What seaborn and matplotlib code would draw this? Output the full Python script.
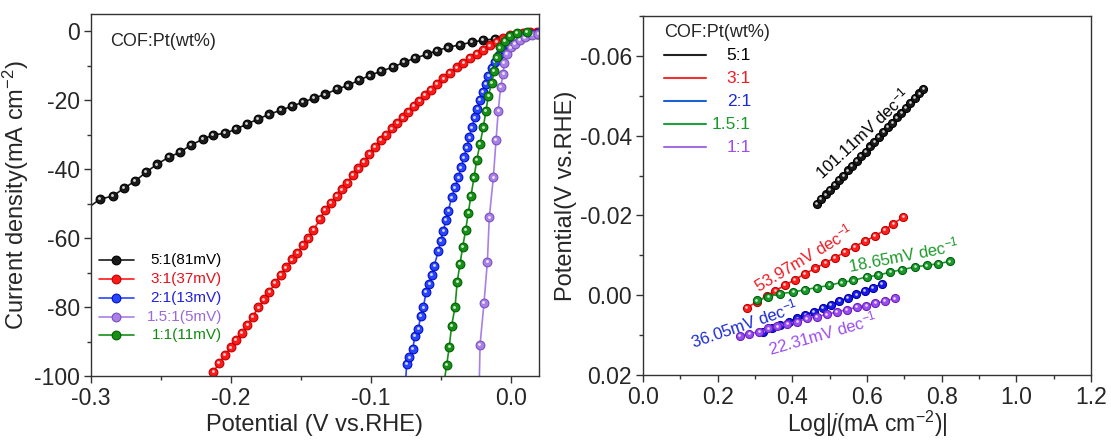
import matplotlib
matplotlib.use("Agg")
import matplotlib.pyplot as plt
import matplotlib.transforms as mtransforms
from matplotlib.lines import Line2D
from matplotlib.ticker import AutoMinorLocator, FormatStrFormatter
import pandas as pd
import seaborn as sns

# ---------------- LSV polarisation curves ----------------
# potential (V vs. RHE) and current density (mA cm^-2)
lsv_5_1_pot = [-0.3000, -0.2936, -0.2843, -0.2764, -0.2686, -0.2607, -0.2529, -0.2443, -0.2364, -0.2286,
               -0.2200, -0.2129, -0.2043, -0.1964, -0.1886, -0.1807, -0.1729, -0.1643, -0.1564, -0.1486,
               -0.1407, -0.1329, -0.1243, -0.1164, -0.1086, -0.1007, -0.0929, -0.0843, -0.0764, -0.0686,
               -0.0600, -0.0529, -0.0450, -0.0364, -0.0279, -0.0200, -0.0114, -0.0029, 0.0043, 0.0120, 0.0186]
lsv_5_1_cur = [-50.6, -48.7, -47.8, -45.5, -43.5, -40.9, -38.6, -36.5, -35.1, -33.0,
               -31.3, -30.1, -29.6, -28.4, -26.9, -25.5, -24.1, -22.9, -21.7, -20.6,
               -19.4, -18.3, -16.8, -15.7, -14.2, -12.8, -11.6, -10.4, -9.0, -7.8,
               -6.7, -5.6, -4.7, -3.9, -3.2, -2.6, -2.2, -1.9, -1.5, -1.1, -0.8]

lsv_3_1_pot = [-0.2140, -0.2126, -0.2086, -0.2043, -0.2002, -0.1964, -0.1924, -0.1884, -0.1845, -0.1805,
               -0.1764, -0.1726, -0.1686, -0.1645, -0.1607, -0.1566, -0.1526, -0.1488, -0.1448, -0.1412,
               -0.1364, -0.1329, -0.1288, -0.1245, -0.1209, -0.1169, -0.1131, -0.1091, -0.1050, -0.1012,
               -0.0971, -0.0930, -0.0893, -0.0852, -0.0812, -0.0774, -0.0734, -0.0693, -0.0655, -0.0614,
               -0.0574, -0.0531, -0.0484, -0.0436, -0.0388, -0.0341, -0.0293, -0.0245, -0.0198, -0.0150,
               -0.0102, -0.0055, -0.0007, 0.0041, 0.0088, 0.0136, 0.0186]
lsv_3_1_cur = [-101.0, -98.8, -96.3, -93.9, -91.7, -89.6, -87.6, -85.2, -82.8, -80.1,
               -77.8, -75.6, -73.0, -70.7, -68.5, -66.2, -64.4, -62.0, -60.1, -57.7,
               -54.5, -51.9, -49.9, -47.8, -45.9, -44.0, -41.7, -39.8, -37.9, -35.6,
               -33.5, -31.6, -30.1, -28.2, -26.6, -25.0, -23.4, -21.7, -20.2, -18.5,
               -16.9, -15.2, -13.7, -12.2, -10.5, -9.1, -7.7, -6.5, -5.3, -4.1,
               -3.1, -2.1, -1.2, -0.7, -0.4, -0.3, -0.2]

lsv_2_1_pot = [-0.0752, -0.0745, -0.0726, -0.0702, -0.0686, -0.0662, -0.0645, -0.0626, -0.0607, -0.0584,
               -0.0566, -0.0548, -0.0519, -0.0502, -0.0484, -0.0464, -0.0448, -0.0424, -0.0400, -0.0376,
               -0.0357, -0.0336, -0.0316, -0.0298, -0.0281, -0.0257, -0.0241, -0.0221, -0.0202, -0.0179,
               -0.0162, -0.0138, -0.0114, -0.0084, -0.0055, -0.0019, 0.0029, 0.0076, 0.0136, 0.0195]
lsv_2_1_cur = [-101.0, -96.5, -94.6, -92.2, -88.3, -86.4, -82.5, -80.1, -75.7, -73.3,
               -70.6, -68.0, -63.7, -60.8, -57.9, -54.8, -52.1, -48.2, -45.3, -42.4,
               -39.5, -36.6, -33.7, -30.8, -27.9, -25.0, -22.6, -20.0, -17.5, -15.2,
               -13.0, -10.7, -8.8, -6.9, -5.2, -3.8, -2.3, -1.4, -0.7, -0.4]

lsv_15_1_pot = [-0.0226, -0.0221, -0.0193, -0.0169, -0.0155, -0.0126, -0.0107, -0.0091, -0.0074,
                -0.0055, -0.0050, -0.0031, -0.0002, 0.0029, 0.0064, 0.0100, 0.0148, 0.0195]
lsv_15_1_cur = [-101.0, -90.9, -78.9, -67.0, -54.0, -42.4, -31.6, -23.1, -16.1,
                -12.3, -9.1, -6.5, -4.7, -3.6, -2.6, -1.8, -1.1, -0.7]

lsv_1_1_pot = [-0.0475, -0.0459, -0.0441, -0.0424, -0.0400, -0.0384, -0.0364, -0.0345, -0.0324,
               -0.0305, -0.0286, -0.0264, -0.0245, -0.0221, -0.0198, -0.0179, -0.0162, -0.0138,
               -0.0121, -0.0102, -0.0079, -0.0043, -0.0007, 0.0041, 0.0112]
lsv_1_1_cur = [-101.0, -96.7, -91.5, -85.4, -80.1, -72.6, -67.5, -62.5, -57.7,
               -52.6, -47.7, -42.4, -37.4, -32.6, -27.9, -23.1, -18.8, -14.9,
               -11.5, -7.6, -4.7, -2.8, -1.4, -0.4, -0.1]

lsv_labels = ["5:1(81mV)", "3:1(37mV)", "2:1(13mV)", "1.5:1(5mV)", "1:1(11mV)"]

# ---------------- Tafel plots ----------------
# log|j| (mA cm^-2) and potential (V vs. RHE)
tafel_5_1_logj = [0.465, 0.477, 0.489, 0.501, 0.513, 0.525, 0.536, 0.548, 0.560, 0.572, 0.584, 0.596, 0.608,
                  0.620, 0.632, 0.644, 0.656, 0.668, 0.680, 0.692, 0.704, 0.716, 0.728, 0.740, 0.751]
tafel_5_1_pot = [-0.0229, -0.0241, -0.0253, -0.0264, -0.0277, -0.0289, -0.0300, -0.0313, -0.0325, -0.0337,
                 -0.0349, -0.0360, -0.0373, -0.0385, -0.0397, -0.0409, -0.0421, -0.0433, -0.0446, -0.0458,
                 -0.0469, -0.0482, -0.0494, -0.0506, -0.0517]

tafel_3_1_logj = [0.278, 0.305, 0.331, 0.354, 0.380, 0.407, 0.434, 0.461, 0.488, 0.514, 0.541, 0.568,
                  0.595, 0.621, 0.648, 0.670, 0.697]
tafel_3_1_pot = [0.0031, 0.0017, 0.0002, -0.0011, -0.0025, -0.0039, -0.0054, -0.0067, -0.0081, -0.0094,
                 -0.0108, -0.0122, -0.0136, -0.0148, -0.0164, -0.0179, -0.0196]

tafel_2_1_logj = [0.322, 0.345, 0.368, 0.390, 0.413, 0.435, 0.458, 0.481, 0.503, 0.526, 0.548, 0.571,
                  0.594, 0.616, 0.639]
tafel_2_1_pot = [0.0092, 0.0083, 0.0075, 0.0067, 0.0058, 0.0049, 0.0041, 0.0032, 0.0024, 0.0015, 0.0006,
                 -0.0002, -0.0011, -0.0019, -0.0028]

tafel_15_1_logj = [0.305, 0.336, 0.367, 0.403, 0.434, 0.465, 0.499, 0.532, 0.563, 0.599, 0.630, 0.662,
                   0.693, 0.729, 0.760, 0.791, 0.822]
tafel_15_1_pot = [0.0013, 0.0004, -0.0004, -0.0008, -0.0014, -0.0019, -0.0025, -0.0032, -0.0037, -0.0046,
                  -0.0050, -0.0058, -0.0064, -0.0071, -0.0075, -0.0079, -0.0085]

tafel_1_1_logj = [0.260, 0.285, 0.311, 0.336, 0.360, 0.387, 0.413, 0.439, 0.465, 0.492, 0.519, 0.546,
                  0.572, 0.598, 0.622, 0.648, 0.675]
tafel_1_1_pot = [0.0102, 0.0096, 0.0092, 0.0083, 0.0078, 0.0071, 0.0067, 0.0058, 0.0054, 0.0048, 0.0042,
                 0.0036, 0.0030, 0.0026, 0.0020, 0.0015, 0.0008]

tafel_labels = ["5:1", "3:1", "2:1", "1.5:1", "1:1"]
tafel_slopes = ["101.11", "53.97", "36.05", "18.65", "22.31"]

# ---------------- style ----------------
sns.set_style("ticks")
plt.rcParams["font.family"] = ["Liberation Sans", "DejaVu Sans"]
plt.rcParams["mathtext.fontset"] = "custom"
plt.rcParams["mathtext.rm"] = "Liberation Sans"
plt.rcParams["mathtext.it"] = "Liberation Sans:italic"
plt.rcParams["axes.unicode_minus"] = False

SPINE = "#333333"

fig = plt.figure(figsize=(11.11, 4.41), dpi=100)
ax1 = fig.add_axes([91 / 1111, 65 / 441, 448 / 1111, 362 / 441])
ax2 = fig.add_axes([643 / 1111, 66 / 441, 448 / 1111, 359 / 441])


def ball_series(ax, x, y, color, edge, ms, lw=1.2, markevery=None):
    """Line with shaded ball markers."""
    df = pd.DataFrame({"x": x, "y": y})
    sns.lineplot(data=df, x="x", y="y", ax=ax, sort=False, estimator=None,
                 color=color, lw=lw, marker="o", markersize=ms,
                 markerfacecolor=color, markeredgecolor=edge, markeredgewidth=0.8,
                 markevery=markevery, legend=False)
    shine = mtransforms.offset_copy(ax.transData, fig=ax.figure, x=-0.6, y=0.8, units="dots")
    ax.plot(x, y, ls="none", marker="o", ms=ms * 0.33, color="white", alpha=0.8,
            markeredgewidth=0, transform=shine, markevery=markevery)


# ---------------- left: LSV ----------------
lsv_series = [
    (lsv_5_1_pot, lsv_5_1_cur, "#1a1a1a", "#000000", slice(1, None)),
    (lsv_3_1_pot, lsv_3_1_cur, "#ff1a1a", "#c00000", slice(1, None)),
    (lsv_2_1_pot, lsv_2_1_cur, "#2a45ff", "#0010c0", slice(1, None)),
    (lsv_15_1_pot, lsv_15_1_cur, "#a880e6", "#7a50c0", slice(1, None)),
    (lsv_1_1_pot, lsv_1_1_cur, "#169016", "#006000", slice(1, None)),
]
lsv_text_colors = ["#000000", "#e8101a", "#2020e0", "#9a6ad8", "#138a13"]

for pot, cur, col, edge, mev in lsv_series:
    ball_series(ax1, pot, cur, col, edge, ms=6.3, markevery=mev)

ax1.set_xlim(-0.3, 0.02)
ax1.set_ylim(-100, 5)
ax1.set_xticks([-0.3, -0.2, -0.1, 0.0])
ax1.set_yticks([0, -20, -40, -60, -80, -100])
ax1.xaxis.set_major_formatter(FormatStrFormatter("%.1f"))
ax1.set_xlabel("Potential (V vs.RHE)", fontsize=17, labelpad=3)
ax1.set_ylabel("Current density(mA cm$^{-2}$)", fontsize=17, labelpad=2)
ax1.text(0.042, 0.923, "COF:Pt(wt%)", transform=ax1.transAxes, ha="left", va="center", fontsize=13)

leg_y = [0.320, 0.268, 0.216, 0.164, 0.112]
for (pot, cur, col, edge, _), tcol, lab, yy in zip(lsv_series, lsv_text_colors, lsv_labels, leg_y):
    ax1.add_line(Line2D([0.018, 0.096], [yy, yy], transform=ax1.transAxes, color=col, lw=1.2))
    ax1.add_line(Line2D([0.056], [yy], transform=ax1.transAxes, marker="o", ms=6.3,
                        color=col, markeredgecolor=edge, markeredgewidth=0.8))
    ax1.text(0.292, yy, lab, transform=ax1.transAxes, ha="right", va="center", color=tcol, fontsize=11)

# ---------------- right: Tafel ----------------
tafel_series = [
    (tafel_5_1_logj, tafel_5_1_pot, "#1a1a1a", "#000000"),
    (tafel_3_1_logj, tafel_3_1_pot, "#ff2020", "#c00000"),
    (tafel_2_1_logj, tafel_2_1_pot, "#1a1af0", "#0000a0"),
    (tafel_15_1_logj, tafel_15_1_pot, "#1a9a2a", "#006010"),
    (tafel_1_1_logj, tafel_1_1_pot, "#9b4ef0", "#6a20c0"),
]
tafel_line_colors = ["#222222", "#ee3333", "#2060d6", "#20a040", "#a070e0"]
tafel_text_colors = ["#000000", "#ee1c24", "#1a2ad6", "#1a9a2a", "#9b4ef0"]

for lj, pot, col, edge in tafel_series:
    ball_series(ax2, lj, pot, col, edge, ms=5.8)

# slope annotations: (x, y, rotation)
slope_pos = [(0.588, -0.0406, 43), (0.431, -0.0095, 31), (0.271, 0.0071, 19),
             (0.697, -0.0100, 11), (0.481, 0.0096, 16)]
for (x, y, rot), s, tcol in zip(slope_pos, tafel_slopes, tafel_text_colors):
    ax2.text(x, y, s + "mV dec$^{-1}$", color=tcol, fontsize=12, rotation=rot,
             rotation_mode="anchor", ha="center", va="center")

ax2.set_xlim(0, 1.2)
ax2.set_ylim(0.02, -0.07)
ax2.set_xticks([0.0, 0.2, 0.4, 0.6, 0.8, 1.0, 1.2])
ax2.set_yticks([-0.06, -0.04, -0.02, 0.00, 0.02])
ax2.xaxis.set_major_formatter(FormatStrFormatter("%.1f"))
ax2.yaxis.set_major_formatter(FormatStrFormatter("%.2f"))
ax2.set_xlabel("Log|$j$(mA cm$^{-2}$)|", fontsize=16.5, labelpad=0)
ax2.set_ylabel("Potential(V vs.RHE)", fontsize=17, labelpad=2)

ax2.text(0.047, 0.953, "COF:Pt(wt%)", transform=ax2.transAxes, ha="left", va="center", fontsize=13)
tleg_y = [0.891, 0.827, 0.763, 0.699, 0.635]
for lab, lcol, tcol, yy in zip(tafel_labels, tafel_line_colors, tafel_text_colors, tleg_y):
    ax2.add_line(Line2D([0.047, 0.141], [yy, yy], transform=ax2.transAxes, color=lcol, lw=1.5))
    ax2.text(0.241, yy, lab, transform=ax2.transAxes, ha="right", va="center", color=tcol, fontsize=12.5)

for ax in (ax1, ax2):
    ax.xaxis.set_minor_locator(AutoMinorLocator(2))
    ax.yaxis.set_minor_locator(AutoMinorLocator(2))
    ax.tick_params(which="major", direction="out", length=5, width=1.0, labelsize=16.5,
                   color=SPINE, top=False, right=False, pad=3)
    ax.tick_params(which="minor", direction="out", length=3, width=1.0, color=SPINE,
                   top=False, right=False)
    for sp in ax.spines.values():
        sp.set_visible(True)
        sp.set_color(SPINE)
        sp.set_linewidth(1.0)

fig.savefig("out.png", dpi=100)
